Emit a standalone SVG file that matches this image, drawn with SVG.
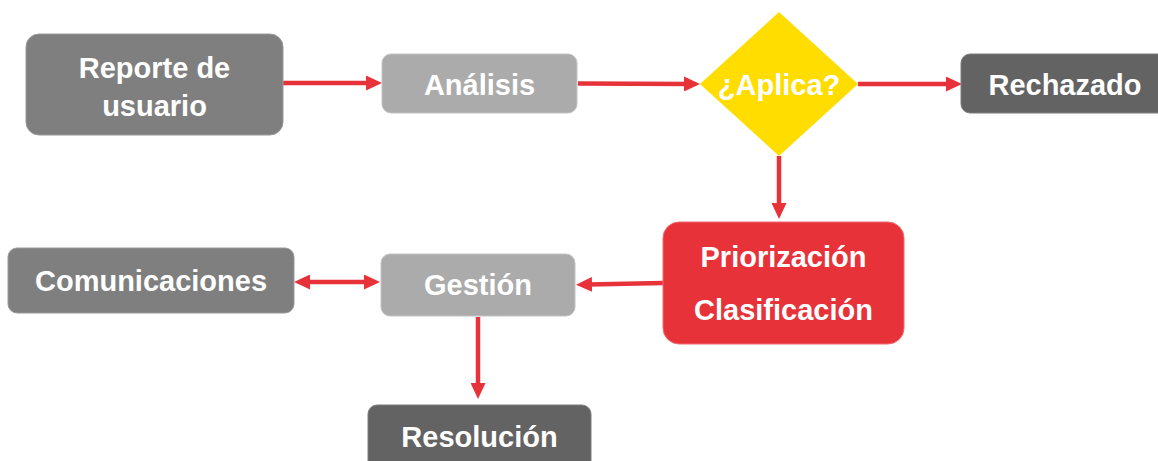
<svg xmlns="http://www.w3.org/2000/svg" width="1158" height="461" viewBox="0 0 1158 461">
<defs>
<style>
.t{font-family:"Liberation Sans",Arial,sans-serif;font-weight:bold;font-size:29px;fill:#ffffff;text-anchor:middle}
.c{stroke:#e8323a;stroke-width:4.5;fill:none}
.g1{fill:#7f7f7f;stroke:#9a9a9a;stroke-width:1}
.g2{fill:#ababab;stroke:#c2c2c2;stroke-width:1}
.g3{fill:#636363;stroke:#7d7d7d;stroke-width:1}
</style>
<marker id="ah" markerUnits="userSpaceOnUse" markerWidth="16" markerHeight="15" refX="4" refY="7.5" orient="auto-start-reverse">
<path d="M0,0 L16,7.5 L0,15 z" fill="#e8323a"/>
</marker>
</defs>
<rect width="1158" height="461" fill="#ffffff"/>
<g id="connectors">
<line class="c" x1="283" y1="83" x2="370" y2="83" marker-end="url(#ah)"/>
<line class="c" x1="578" y1="83.5" x2="688" y2="84" marker-end="url(#ah)"/>
<line class="c" x1="858" y1="84" x2="950" y2="84" marker-end="url(#ah)"/>
<line class="c" x1="779" y1="156" x2="779" y2="207" marker-end="url(#ah)"/>
<line class="c" x1="663" y1="283" x2="588" y2="284.5" marker-end="url(#ah)"/>
<line class="c" x1="306" y1="282" x2="368" y2="282" marker-start="url(#ah)" marker-end="url(#ah)"/>
<line class="c" x1="478" y1="317" x2="478" y2="387" marker-end="url(#ah)"/>
</g>
<g id="reporte">
<rect class="g1" x="26" y="34" width="257" height="101" rx="13"/>
<text class="t" x="154.5" y="78">Reporte de</text>
<text class="t" x="154.5" y="116">usuario</text>
</g>
<g id="analisis">
<rect class="g2" x="382" y="54" width="195" height="59" rx="9"/>
<text class="t" x="479.5" y="95">Análisis</text>
</g>
<g id="aplica">
<polygon points="779,12 858,84 779,156 700,84" fill="#ffdd00"/>
<text class="t" x="779" y="95">¿Aplica?</text>
</g>
<g id="rechazado">
<rect class="g3" x="961" y="54" width="230" height="59" rx="9"/>
<text class="t" x="1065" y="95">Rechazado</text>
</g>
<g id="priorizacion">
<rect x="663" y="222" width="241" height="122" rx="16" fill="#e8323a" stroke="#ee6a70" stroke-width="1"/>
<text class="t" x="783.5" y="267">Priorización</text>
<text class="t" x="783.5" y="320">Clasificación</text>
</g>
<g id="comunicaciones">
<rect class="g1" x="8" y="248" width="286" height="65" rx="9"/>
<text class="t" x="151" y="291">Comunicaciones</text>
</g>
<g id="gestion">
<rect class="g2" x="381" y="254" width="194" height="62" rx="9"/>
<text class="t" x="478" y="295">Gestión</text>
</g>
<g id="resolucion">
<rect class="g3" x="368" y="405" width="223" height="70" rx="9"/>
<text class="t" x="479.5" y="447">Resolución</text>
</g>
</svg>
